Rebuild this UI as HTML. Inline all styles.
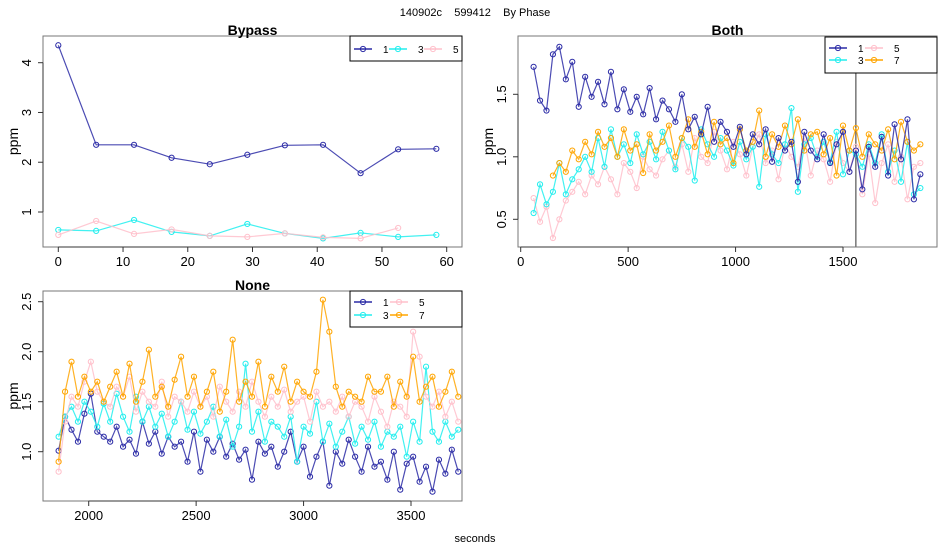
<!DOCTYPE html>
<html><head><meta charset="utf-8"><style>
body{margin:0;background:#fff;}
svg{display:block;font-family:"Liberation Sans",sans-serif;}
</style></head><body>
<svg id="chart" width="950" height="550" viewBox="0 0 950 550">
<text x="475" y="16" font-size="11" text-anchor="middle" style="white-space:pre">140902c    599412    By Phase</text>
<text x="475" y="542" font-size="11" text-anchor="middle">seconds</text>
</svg>
<script>
const bypassX=[0,5.85,11.7,17.5,23.4,29.2,35,40.9,46.7,52.5,58.4];
const bypass1=[4.35,2.35,2.35,2.09,1.96,2.15,2.34,2.35,1.78,2.26,2.27];
const bypass3=[0.64,0.62,0.84,0.60,0.52,0.76,0.57,0.47,0.58,0.50,0.54];
const bypass5=[0.54,0.82,0.56,0.65,0.52,0.50,0.57,0.49,0.47,0.68,null];
const bypassXTicks=[0,10,20,30,40,50,60];
const bypassYTicks=[1,2,3,4];

const bothX=[60,90,120,150,180,210,240,270,300,330,360,390,420,450,480,510,540,570,600,630,660,690,720,750,780,810,840,870,900,930,960,990,1020,1050,1080,1110,1140,1170,1200,1230,1260,1290,1320,1350,1380,1410,1440,1470,1500,1530,1560,1590,1620,1650,1680,1710,1740,1770,1800,1830,1860];
const both1=[1.72,1.45,1.37,1.82,1.88,1.62,1.76,1.40,1.64,1.48,1.60,1.42,1.68,1.38,1.54,1.36,1.48,1.34,1.55,1.30,1.45,1.38,1.28,1.50,1.22,1.32,1.18,1.40,1.12,1.28,1.20,1.08,1.24,1.02,1.18,1.10,1.22,0.96,1.15,1.05,1.12,0.80,1.20,1.05,0.98,1.18,0.95,1.10,1.20,0.88,1.05,0.74,1.08,0.92,1.16,0.85,1.26,0.98,1.30,0.66,0.86];
const both3=[0.55,0.78,0.62,0.72,0.95,0.70,0.82,0.90,1.00,0.88,1.15,0.92,1.22,1.00,1.10,0.95,1.18,1.02,1.12,0.98,1.20,1.05,0.90,1.15,1.08,0.81,1.22,1.10,1.00,1.15,1.05,0.93,1.12,0.98,1.08,0.76,1.18,1.02,0.95,1.10,1.39,0.72,1.10,1.15,1.00,1.12,0.96,1.20,0.86,1.05,1.02,0.92,1.10,0.95,1.18,0.88,1.05,0.80,1.12,0.70,0.75];
const both5=[0.67,0.48,0.60,0.35,0.50,0.65,0.72,0.80,0.70,0.85,0.78,0.92,0.82,0.70,0.95,0.88,0.75,1.00,0.90,0.85,0.98,1.05,0.92,1.10,0.88,1.15,1.00,0.95,1.20,1.05,0.90,1.12,1.02,0.85,1.08,1.18,0.95,1.05,0.82,1.10,1.00,0.92,1.15,0.85,1.05,0.98,0.80,1.12,0.95,0.88,1.08,0.70,1.02,0.63,0.95,1.10,0.80,1.00,0.66,0.92,0.95];
const both7=[null,null,null,0.85,0.95,0.88,1.05,0.98,1.12,1.02,1.20,1.08,1.15,1.00,1.22,1.05,1.10,0.87,1.18,1.05,1.12,1.25,1.00,1.15,1.30,1.08,1.20,1.02,1.28,1.10,1.15,0.95,1.22,1.05,1.12,1.37,1.00,1.18,1.08,1.25,1.10,1.30,1.05,1.18,1.20,1.02,1.15,0.85,1.25,1.05,1.23,1.00,1.18,1.10,1.05,1.22,0.98,1.28,1.12,1.05,1.10];
const bothXTicks=[0,500,1000,1500];
const bothYTicks=[0.5,1.0,1.5];
const bothMarker=[1560];

const noneX=[1860,1890,1920,1950,1980,2010,2040,2070,2100,2130,2160,2190,2220,2250,2280,2310,2340,2370,2400,2430,2460,2490,2520,2550,2580,2610,2640,2670,2700,2730,2760,2790,2820,2850,2880,2910,2940,2970,3000,3030,3060,3090,3120,3150,3180,3210,3240,3270,3300,3330,3360,3390,3420,3450,3480,3510,3540,3570,3600,3630,3660,3690,3720];
const none1=[1.01,1.35,1.22,1.10,1.38,1.58,1.20,1.15,1.10,1.25,1.05,1.12,0.98,1.30,1.08,1.20,0.98,1.15,1.05,1.10,0.90,1.20,0.80,1.12,1.00,1.15,0.95,1.08,0.92,1.02,0.72,1.10,0.98,1.05,0.85,1.00,1.20,0.90,1.05,0.75,0.95,1.10,0.66,1.00,0.88,1.12,0.95,0.80,1.05,0.85,0.90,0.72,1.00,0.62,0.88,0.95,0.70,0.85,0.60,0.92,0.78,1.02,0.80];
const none3=[1.15,1.35,1.45,1.30,1.50,1.40,1.25,1.48,1.30,1.58,1.35,1.20,1.55,1.30,1.45,1.25,1.38,1.15,1.30,1.50,1.22,1.40,1.18,1.30,1.45,1.15,1.32,1.05,1.25,1.88,1.20,1.40,1.10,1.30,1.25,1.15,1.35,0.90,1.25,1.18,1.50,1.10,1.28,1.05,1.20,1.35,1.08,1.25,1.12,1.30,1.05,1.20,1.15,1.25,0.95,1.30,1.10,1.85,1.20,1.10,1.30,1.15,1.22];
const none5=[0.80,1.30,1.55,1.45,1.70,1.90,1.60,1.50,1.45,1.65,1.55,1.75,1.40,1.60,1.50,1.45,1.70,1.35,1.55,1.50,1.40,1.60,1.45,1.55,1.35,1.65,1.50,1.40,1.60,1.45,1.70,1.50,1.35,1.55,1.45,1.62,1.40,1.50,1.55,1.30,1.60,1.45,1.50,1.40,1.55,1.35,1.50,1.45,1.30,1.55,1.40,1.25,1.50,1.45,1.35,2.20,1.95,1.55,1.45,1.60,1.35,1.50,1.30];
const none7=[0.90,1.60,1.90,1.55,1.75,1.60,1.70,1.50,1.65,1.80,1.55,1.88,1.50,1.70,2.02,1.55,1.65,1.45,1.72,1.95,1.55,1.75,1.45,1.60,1.80,1.40,1.60,2.12,1.50,1.70,1.55,1.90,1.45,1.75,1.60,1.85,1.50,1.70,1.60,1.55,1.80,2.52,2.20,1.65,1.45,1.60,1.55,1.50,1.75,1.60,1.60,1.75,1.45,1.70,1.55,1.95,1.50,1.65,1.75,1.45,1.60,1.80,1.55];
const noneXTicks=[2000,2500,3000,3500];
const noneYTicks=[1.0,1.5,2.0,2.5];

const COL={"1":"#2b2ba6","3":"#22eeee","5":"#ffc0cb","7":"#ffa500"};
const NS="http://www.w3.org/2000/svg";
const svg=document.getElementById('chart');
function mk(tag,attrs,parent){const e=document.createElementNS(NS,tag);for(const k in attrs)e.setAttribute(k,attrs[k]);(parent||svg).appendChild(e);return e;}

function panel(p){
  const g=mk('g',{});
  
  
  const sx=v=>p.x0+(v-p.dx0)*(p.x1-p.x0)/(p.dx1-p.dx0);
  const sy=v=>p.y0+(v-p.dy0)*(p.y1-p.y0)/(p.dy1-p.dy0);
  const cp='clip-'+p.name;
  const defs=mk('defs',{},g);
  const c=mk('clipPath',{id:cp},defs);
  mk('rect',{x:p.L,y:p.T,width:p.R-p.L,height:p.B-p.T},c);
  const sg=mk('g',{'clip-path':'url(#'+cp+')'},g);
  (p.vlines||[]).forEach(v=>{
    const l=mk('line',{x1:sx(v),x2:sx(v),y1:p.T,y2:p.B,stroke:'#333','stroke-width':1},sg);
    
    
  });
  p.series.forEach(s=>{
    const sgg=mk('g',{},sg);
    
    
    let d='';let pen=false;
    s.xs.forEach((xv,i)=>{const v=s.ys[i];if(v==null){pen=false;return;}d+=(pen?'L':'M')+sx(xv).toFixed(1)+' '+sy(v).toFixed(1);pen=true;});
    mk('path',{d:d,fill:'none',stroke:COL[s.key],'stroke-width':1.2,'stroke-opacity':0.85},sgg);
    s.xs.forEach((xv,i)=>{const v=s.ys[i];if(v==null)return;
      const pt=mk('circle',{cx:sx(xv),cy:sy(v),r:2.6,fill:'none',stroke:COL[s.key],'stroke-width':1},sgg);
      
      
    });
  });
  mk('rect',{x:p.L,y:p.T,width:p.R-p.L,height:p.B-p.T,fill:'none',stroke:'#777','stroke-width':1},g);
  const xt=p.xticks;
  mk('line',{x1:sx(xt[0]),x2:sx(xt[xt.length-1]),y1:p.B,y2:p.B,stroke:'#333'},g);
  xt.forEach(t=>{mk('line',{x1:sx(t),x2:sx(t),y1:p.B,y2:p.B+5,stroke:'#333'},g);
    const tx=mk('text',{x:sx(t),y:p.B+19,'font-size':13,'text-anchor':'middle'},g);tx.textContent=t;
    
    });
  const yt=p.yticks;
  mk('line',{x1:p.L,x2:p.L,y1:sy(yt[0]),y2:sy(yt[yt.length-1]),stroke:'#333'},g);
  yt.forEach(t=>{mk('line',{x1:p.L-5,x2:p.L,y1:sy(t),y2:sy(t),stroke:'#333'},g);
    const tx=mk('text',{x:p.L-12,y:sy(t),'font-size':13,'text-anchor':'middle',transform:'rotate(-90 '+(p.L-12)+' '+sy(t)+')'},g);
    tx.textContent=p.yfmt?t.toFixed(1):t;
    
    });
  const yl=mk('text',{x:p.L-25,y:(p.T+p.B)/2,'font-size':14,'text-anchor':'middle',transform:'rotate(-90 '+(p.L-25)+' '+(p.T+p.B)/2+')'},g);
  yl.textContent='ppm';
  
  
  const ti=mk('text',{x:(p.L+p.R)/2,y:p.T-1,'font-size':14,'font-weight':'bold','text-anchor':'middle'},g);
  ti.textContent=p.title;
  
  
  const lg=mk('g',{},g);
  
  
  mk('rect',{x:p.leg.x,y:p.leg.y,width:p.leg.w,height:p.leg.h,fill:'#fff',stroke:'#000','stroke-width':1},lg);
  p.leg.items.forEach(it=>{
    const e=mk('g',{},lg);
    
    
    mk('line',{x1:it.x,x2:it.x+18,y1:it.y,y2:it.y,stroke:COL[it.k],'stroke-width':1.5},e);
    mk('circle',{cx:it.x+9,cy:it.y,r:2.6,fill:'none',stroke:COL[it.k]},e);
    const t=mk('text',{x:it.x+29,y:it.y+4,'font-size':10},e);t.textContent=it.k;
  });
}

panel({name:'bypass',title:'Bypass',L:43,R:462,T:36,B:247,x0:58.3,x1:446.7,dx0:0,dx1:60,y0:212,y1:62.7,dy0:1,dy1:4,
  xticks:bypassXTicks,yticks:bypassYTicks,yfmt:false,
  series:[{key:'1',xs:bypassX,ys:bypass1},{key:'3',xs:bypassX,ys:bypass3},{key:'5',xs:bypassX,ys:bypass5}],
  leg:{x:350,y:36,w:112,h:25,items:[{k:'1',x:354,y:49},{k:'3',x:389,y:49},{k:'5',x:424,y:49}]}});

panel({name:'both',title:'Both',L:518,R:937,T:36,B:247,x0:520.7,x1:843,dx0:0,dx1:1500,y0:219.3,y1:94.3,dy0:0.5,dy1:1.5,
  xticks:bothXTicks,yticks:bothYTicks,yfmt:true,vlines:bothMarker,
  series:[{key:'5',xs:bothX,ys:both5},{key:'3',xs:bothX,ys:both3},{key:'7',xs:bothX,ys:both7},{key:'1',xs:bothX,ys:both1}],
  leg:{x:825,y:37,w:112,h:36,items:[{k:'1',x:829,y:48},{k:'3',x:829,y:60},{k:'5',x:865,y:48},{k:'7',x:865,y:60}]}});

panel({name:'none',title:'None',L:43,R:462,T:291,B:501,x0:88.7,x1:411,dx0:2000,dx1:3500,y0:451.7,y1:301.7,dy0:1.0,dy1:2.5,
  xticks:noneXTicks,yticks:noneYTicks,yfmt:true,
  series:[{key:'1',xs:noneX,ys:none1},{key:'3',xs:noneX,ys:none3},{key:'5',xs:noneX,ys:none5},{key:'7',xs:noneX,ys:none7}],
  leg:{x:350,y:291,w:112,h:36,items:[{k:'1',x:354,y:302},{k:'3',x:354,y:315},{k:'5',x:390,y:302},{k:'7',x:390,y:315}]}});
</script>
</body></html>
